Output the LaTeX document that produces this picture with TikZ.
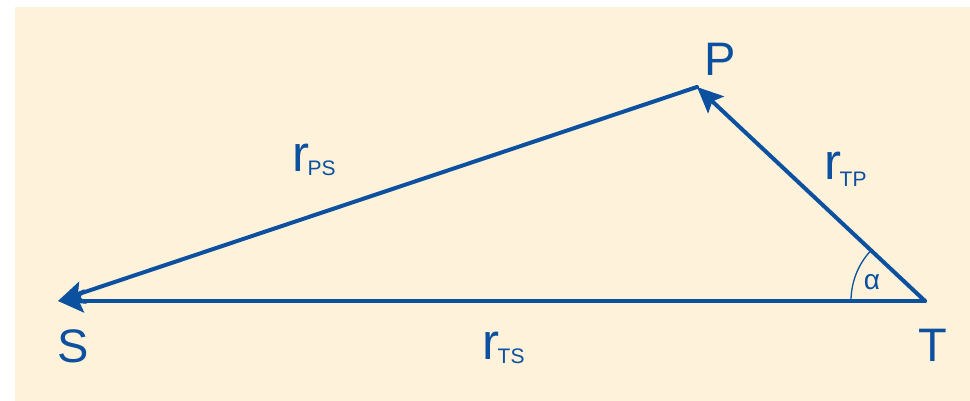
\documentclass[tikz,border=0pt]{standalone}
\usepackage{fontspec}
\setmainfont{Liberation Sans}
\usetikzlibrary{arrows.meta,angles}
\definecolor{vblue}{RGB}{12,80,160}
\definecolor{cream}{RGB}{254,242,218}
\newcommand\vecname[2]{{\fontsize{51}{51}\selectfont r}\kern-1.5pt\raisebox{-#2pt}{\fontsize{21}{21}\selectfont #1}}
\begin{document}
\begin{tikzpicture}[x=1pt,y=1pt,
  vec/.style={draw=vblue, line width=4pt, line cap=round, line join=round,
    -{Stealth[length=26pt,width=23pt,inset=5pt]}},
  vertexlab/.style={text=vblue, font=\fontsize{47}{47}\selectfont, inner sep=0pt, anchor=base},
  veclab/.style={text=vblue, inner sep=0pt, anchor=base west},
  anglab/.style={text=vblue, font=\fontsize{28}{28}\selectfont, inner sep=0pt}]
\useasboundingbox (0,0) rectangle (970,-401);
\fill[white] (0,0) rectangle (970,-401);
\fill[cream] (15,-7) rectangle (970,-401);
% vertices
\coordinate (S) at (58,-301);
\coordinate (T) at (925,-301);
\coordinate (P) at (697,-87);
% angle arc
\pic[draw=vblue, line width=1.3pt, angle radius=74pt] {angle = P--T--S};
% vectors
\draw[vec] (T) -- (S);
\draw[vec] (P) -- (S);
\draw[vec] (T) -- (P);
% vertex labels
\node[vertexlab] (lP) at (720,-76) {P};
\node[vertexlab] (lS) at (73,-362) {S};
\node[vertexlab] (lT) at (933,-361) {T};
% vector labels
\node[veclab] (rPS) at (292,-172) {\vecname{PS}{3}};
\node[veclab] (rTP) at (824,-179) {\vecname{TP}{8}};
\node[veclab] (rTS) at (482,-359) {\vecname{TS}{4}};
% angle label
\node[anglab] (alpha) at (872,-282) {α};
\end{tikzpicture}
\end{document}
